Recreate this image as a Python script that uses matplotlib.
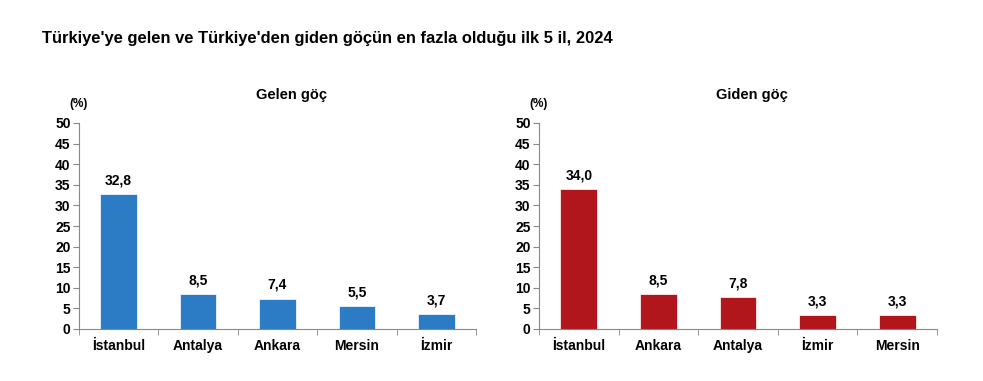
import matplotlib.pyplot as plt

plt.rcParams["font.family"] = ["Liberation Sans", "DejaVu Sans"]
plt.rcParams["font.weight"] = "bold"

title = "Türkiye'ye gelen ve Türkiye'den giden göçün en fazla olduğu ilk 5 il, 2024"

gelen_iller = ["İstanbul", "Antalya", "Ankara", "Mersin", "İzmir"]
gelen_oran = [32.8, 8.5, 7.4, 5.5, 3.7]

giden_iller = ["İstanbul", "Ankara", "Antalya", "İzmir", "Mersin"]
giden_oran = [34.0, 8.5, 7.8, 3.3, 3.3]

yticks = [0, 5, 10, 15, 20, 25, 30, 35, 40, 45, 50]

fig = plt.figure(figsize=(9.83, 3.81), dpi=100)
fig.text(42 / 983, 1 - 38 / 381, title, fontsize=11.9, fontweight="bold",
         ha="left", va="center")

panels = [
    ([79, 476], gelen_iller, gelen_oran, "#2B7CC4", "Gelen göç", 292),
    ([539, 937], giden_iller, giden_oran, "#B0161B", "Giden göç", 752),
]

for (x0, x1), iller, oran, renk, baslik, bx in panels:
    ax = fig.add_axes([x0 / 983, 1 - 329 / 381, (x1 - x0) / 983, 206 / 381])
    pos = range(len(iller))
    ax.bar(pos, oran, width=0.46, color=renk, edgecolor="white", linewidth=0.5)
    for p, v in zip(pos, oran):
        ax.text(p, v + 1.6, f"{v:.1f}".replace(".", ","), ha="center",
                va="bottom", fontsize=10, fontweight="bold")
    ax.set_xlim(-0.5, len(iller) - 0.5)
    ax.set_ylim(0, 50)
    ax.set_yticks(yticks)
    ax.set_yticklabels([str(t) for t in yticks], fontsize=10, fontweight="bold")
    ax.set_xticks(list(pos))
    ax.set_xticklabels(iller, fontsize=10, fontweight="bold")
    ax.set_xticks([i + 0.5 for i in range(-1, len(iller))], minor=True)
    ax.tick_params(axis="x", which="major", length=0, pad=7)
    ax.tick_params(axis="x", which="minor", length=4, color="#888888")
    ax.tick_params(axis="y", length=4, color="#888888", pad=2)
    for s in ["top", "right"]:
        ax.spines[s].set_visible(False)
    for s in ["left", "bottom"]:
        ax.spines[s].set_color("#888888")
        ax.spines[s].set_linewidth(0.8)
    fig.text(bx / 983, 1 - 95 / 381, baslik, fontsize=10.5, fontweight="bold",
             ha="center", va="center")
    fig.text(x0 / 983, 1 - 104 / 381, "(%)", fontsize=8.5, fontweight="bold",
             ha="center", va="center")

fig.savefig("out.png", dpi=100)
